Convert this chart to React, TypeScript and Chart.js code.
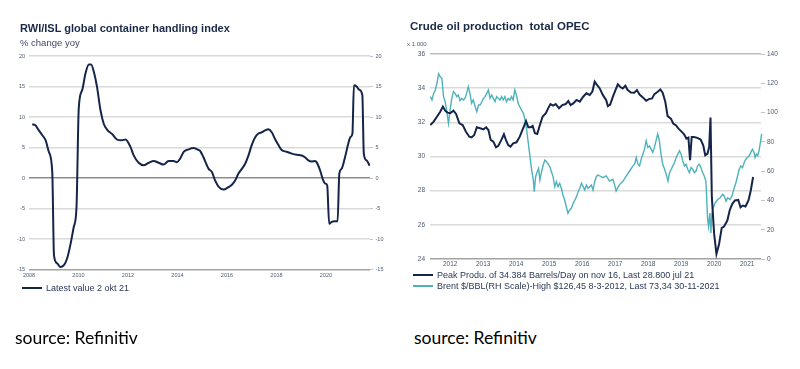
import React, { useEffect, useRef } from 'react';
import Chart from 'chart.js/auto';

// ---------- Left chart: RWI/ISL global container handling index ----------
const containerYears = [
  2008.13, 2008.24, 2008.40, 2008.54, 2008.67, 2008.80, 2008.94, 2009.01, 2009.14, 2009.27,
  2009.41, 2009.54, 2009.68, 2009.81, 2009.92, 2010.01, 2010.15, 2010.28, 2010.42, 2010.51,
  2010.62, 2010.75, 2010.89, 2011.02, 2011.16, 2011.36, 2011.56, 2011.76, 2011.90, 2012.10,
  2012.23, 2012.43, 2012.63, 2012.84, 2013.04, 2013.24, 2013.44, 2013.64, 2013.84, 2013.98,
  2014.11, 2014.25, 2014.45, 2014.65, 2014.85, 2014.92, 2015.05, 2015.26, 2015.39, 2015.52,
  2015.66, 2015.86, 2016.06, 2016.20, 2016.33, 2016.46, 2016.60, 2016.73, 2016.87, 2017.00,
  2017.14, 2017.27, 2017.41, 2017.54, 2017.67, 2017.81, 2017.94, 2018.08, 2018.21, 2018.41,
  2018.62, 2018.82, 2019.02, 2019.15, 2019.29, 2019.42, 2019.56, 2019.62, 2019.76, 2019.89,
  2019.96, 2020.05, 2020.13, 2020.23, 2020.36, 2020.47, 2020.54, 2020.63, 2020.77, 2020.90,
  2020.99, 2021.07, 2021.13, 2021.24, 2021.34, 2021.47, 2021.53, 2021.64, 2021.77,
];
const containerChange = [
  8.8, 8.7, 7.8, 7.0, 6.2, 4.3, 1.0, -12.7, -14.0, -14.6,
  -14.3, -13.2, -10.8, -8.0, -4.8, 11.4, 14.4, 17.1, 18.6, 18.6,
  17.4, 14.9, 11.1, 8.9, 7.9, 7.2, 6.3, 6.2, 6.3, 5.1,
  3.7, 2.5, 2.1, 2.5, 2.8, 2.5, 2.2, 2.8, 2.8, 2.6,
  3.2, 4.3, 4.7, 4.9, 4.6, 4.4, 3.4, 1.5, 1.0, -0.4,
  -1.4, -1.9, -1.5, -1.1, -0.4, 0.7, 1.5, 2.3, 3.7, 5.4,
  6.7, 7.3, 7.5, 7.8, 8.0, 7.5, 6.4, 5.4, 4.6, 4.3,
  4.0, 3.8, 3.7, 3.4, 2.9, 2.7, 2.8, 2.6, 1.3, -0.4,
  -0.9, -1.2, -7.5, -7.2, -7.1, -7.1, 0.7, 1.5, 3.4, 5.6,
  6.7, 7.3, 15.2, 15.0, 14.5, 13.6, 4.0, 2.9, 2.0,
];
const leftTitle = 'RWI/ISL global container handling index';
const leftSubtitle = '% change yoy';
const leftLegend = 'Latest value 2 okt 21';

// ---------- Right chart: Crude oil production total OPEC ----------
const prodYears = [
  2011.40, 2011.50, 2011.60, 2011.70, 2011.78, 2011.85, 2011.92, 2012.00, 2012.10, 2012.18,
  2012.28, 2012.38, 2012.48, 2012.58, 2012.65, 2012.73, 2012.81, 2012.91, 2013.01, 2013.09,
  2013.16, 2013.23, 2013.31, 2013.39, 2013.46, 2013.56, 2013.63, 2013.69, 2013.76, 2013.83,
  2013.91, 2014.01, 2014.11, 2014.22, 2014.30, 2014.37, 2014.44, 2014.50, 2014.57, 2014.64,
  2014.72, 2014.80, 2014.90, 2014.97, 2015.04, 2015.12, 2015.20, 2015.30, 2015.40, 2015.50,
  2015.58, 2015.65, 2015.73, 2015.83, 2015.93, 2016.03, 2016.13, 2016.23, 2016.31, 2016.38,
  2016.45, 2016.53, 2016.63, 2016.73, 2016.78, 2016.85, 2016.93, 2017.01, 2017.08, 2017.15,
  2017.23, 2017.31, 2017.38, 2017.48, 2017.58, 2017.66, 2017.74, 2017.84, 2017.94, 2018.02,
  2018.12, 2018.19, 2018.29, 2018.37, 2018.44, 2018.52, 2018.59, 2018.69, 2018.76, 2018.84,
  2018.92, 2019.02, 2019.09, 2019.16, 2019.22, 2019.27, 2019.32, 2019.39, 2019.49, 2019.59,
  2019.67, 2019.73, 2019.80, 2019.85, 2019.89, 2019.93, 2020.00, 2020.07, 2020.15, 2020.23,
  2020.30, 2020.40, 2020.47, 2020.55, 2020.63, 2020.73, 2020.80, 2020.87, 2020.95, 2021.04,
  2021.11, 2021.18,
];
const prodValues = [
  31.84, 32.04, 32.33, 32.62, 32.92, 32.68, 32.57, 32.53, 32.68, 32.49,
  31.94, 31.84, 31.45, 31.16, 31.12, 31.26, 31.71, 31.65, 31.59, 31.71,
  31.55, 30.97, 30.87, 30.54, 30.62, 31.00, 31.30, 30.97, 30.67, 30.58,
  30.77, 30.83, 31.16, 31.69, 32.08, 31.71, 31.71, 31.79, 31.36, 31.32,
  31.84, 32.33, 32.53, 32.82, 33.07, 32.98, 33.07, 32.82, 33.01, 33.07,
  33.25, 33.01, 33.11, 33.31, 33.21, 33.50, 33.70, 33.60, 33.80, 34.38,
  34.19, 34.00, 33.59, 33.30, 32.95, 33.04, 33.49, 33.89, 34.22, 34.08,
  33.98, 34.14, 33.89, 33.75, 33.73, 33.89, 33.63, 33.46, 33.26, 33.36,
  33.40, 33.65, 33.79, 33.92, 33.73, 33.20, 32.36, 32.22, 31.93, 31.83,
  31.63, 31.44, 31.30, 31.05, 31.11, 29.78, 31.14, 31.14, 31.09, 30.99,
  30.66, 30.07, 30.17, 30.56, 32.28, 27.62, 25.47, 24.29, 24.88, 25.82,
  25.90, 26.25, 26.84, 27.23, 27.43, 27.46, 27.03, 27.13, 27.07, 27.43,
  28.01, 28.80,
];
const brentYears = [
  2011.40, 2011.45, 2011.50, 2011.55, 2011.60, 2011.65, 2011.70, 2011.75, 2011.80, 2011.85,
  2011.90, 2011.95, 2012.00, 2012.05, 2012.10, 2012.15, 2012.20, 2012.25, 2012.30, 2012.35,
  2012.40, 2012.45, 2012.50, 2012.55, 2012.60, 2012.65, 2012.70, 2012.76, 2012.81, 2012.86,
  2012.91, 2012.96, 2013.01, 2013.06, 2013.11, 2013.16, 2013.21, 2013.26, 2013.31, 2013.36,
  2013.41, 2013.46, 2013.51, 2013.56, 2013.61, 2013.66, 2013.71, 2013.76, 2013.81, 2013.86,
  2013.91, 2013.96, 2014.01, 2014.06, 2014.11, 2014.16, 2014.22, 2014.27, 2014.32, 2014.37,
  2014.42, 2014.47, 2014.52, 2014.55, 2014.59, 2014.64, 2014.68, 2014.72, 2014.77, 2014.82,
  2014.87, 2014.92, 2014.97, 2015.02, 2015.07, 2015.12, 2015.17, 2015.22, 2015.27, 2015.32,
  2015.37, 2015.42, 2015.47, 2015.52, 2015.57, 2015.62, 2015.67, 2015.73, 2015.78, 2015.83,
  2015.88, 2015.93, 2015.98, 2016.03, 2016.08, 2016.13, 2016.18, 2016.23, 2016.28, 2016.33,
  2016.38, 2016.43, 2016.48, 2016.53, 2016.63, 2016.73, 2016.83, 2016.93, 2016.98, 2017.03,
  2017.08, 2017.14, 2017.24, 2017.34, 2017.44, 2017.54, 2017.59, 2017.64, 2017.69, 2017.74,
  2017.79, 2017.84, 2017.89, 2017.94, 2017.99, 2018.04, 2018.09, 2018.14, 2018.19, 2018.24,
  2018.29, 2018.34, 2018.39, 2018.44, 2018.50, 2018.55, 2018.60, 2018.65, 2018.70, 2018.75,
  2018.80, 2018.85, 2018.90, 2018.95, 2019.00, 2019.05, 2019.10, 2019.15, 2019.20, 2019.25,
  2019.30, 2019.35, 2019.40, 2019.45, 2019.50, 2019.55, 2019.60, 2019.65, 2019.70, 2019.75,
  2019.77, 2019.80, 2019.83, 2019.87, 2019.90, 2019.93, 2019.97, 2020.03, 2020.11, 2020.18,
  2020.26, 2020.31, 2020.36, 2020.41, 2020.48, 2020.54, 2020.61, 2020.66, 2020.71, 2020.76,
  2020.81, 2020.86, 2020.91, 2020.96, 2021.01, 2021.06, 2021.11, 2021.16, 2021.21, 2021.24,
  2021.28, 2021.32, 2021.36, 2021.41, 2021.44, 2021.48, 2021.52, 2021.54,
];
const brentValues = [
  110.9, 108.6, 113.1, 115.4, 120.0, 126.5, 124.5, 123.4, 110.9, 107.4,
  100.6, 92.6, 101.8, 109.7, 114.3, 113.1, 110.9, 112.0, 108.1, 109.7,
  108.6, 109.7, 113.1, 117.7, 113.1, 106.3, 108.6, 104.0, 100.6, 105.2,
  105.2, 107.4, 109.7, 110.9, 113.1, 115.4, 109.7, 112.0, 109.7, 107.4,
  110.9, 109.7, 108.6, 110.9, 108.6, 110.9, 107.4, 109.7, 108.6, 110.9,
  108.6, 115.4, 112.0, 106.3, 104.0, 101.8, 99.5, 94.9, 88.1, 79.0,
  69.9, 60.8, 54.0, 46.0, 56.2, 59.6, 61.9, 54.0, 59.6, 64.2,
  67.6, 66.5, 64.9, 63.1, 59.6, 56.2, 49.4, 52.8, 49.4, 51.7,
  48.3, 43.7, 40.3, 35.7, 31.2, 33.5, 34.6, 38.0, 40.3, 42.6,
  46.0, 48.3, 51.7, 49.4, 47.1, 50.5, 48.3, 49.4, 50.5, 47.1,
  52.8, 56.2, 57.4, 56.7, 55.5, 56.7, 53.2, 54.4, 51.0, 46.4,
  48.7, 51.0, 53.2, 56.7, 60.1, 63.6, 64.7, 69.3, 64.7, 63.6,
  68.2, 71.6, 75.0, 80.8, 76.2, 77.3, 75.0, 72.8, 76.2, 80.8,
  85.4, 80.8, 71.6, 64.7, 61.3, 57.8, 53.2, 59.0, 61.3, 63.6,
  65.9, 69.3, 71.6, 73.9, 71.6, 67.0, 63.6, 64.7, 61.3, 59.0,
  62.4, 61.3, 59.0, 60.1, 63.6, 64.7, 62.4, 59.0, 56.7, 53.2,
  44.1, 28.0, 22.3, 31.4, 17.7, 30.3, 34.9, 38.3, 40.6, 41.8,
  44.1, 42.9, 39.5, 41.8, 40.6, 42.9, 48.7, 52.1, 56.7, 61.3,
  63.6, 62.4, 65.9, 68.2, 69.3, 70.5, 72.8, 75.0, 72.8, 69.3,
  71.6, 70.5, 73.9, 80.8, 85.4, 84.2, 80.8, 75.0,
];
const rightTitle = 'Crude oil production  total OPEC';
const rightUnit = 'x 1.000';
const prodLabel = 'Peak Produ. of 34.384 Barrels/Day on nov 16, Last 28.800 jul 21';
const brentLabel = 'Brent $/BBL(RH Scale)-High $126,45 8-3-2012, Last 73,34 30-11-2021';
const sourceText = 'source: Refinitiv';

const NAVY = '#15254a';
const TEAL = '#4db2ba';
const TICK = '#4c5a72';
const TITLE = '#1b2948';
const FONT = '"Liberation Sans", Arial, Helvetica, sans-serif';

const gridLeft = (c: any) => {
  const v = c.tick && c.tick.value;
  if (v === 0) return '#8d8d8d';
  if (v === -15) return '#a3a3a3';
  return '#dadada';
};
const gridRight = (c: any) => {
  const v = c.tick && c.tick.value;
  if (v === 24) return '#a3a3a3';
  if (v === 36) return '#bdbdbd';
  return '#dadada';
};

function LeftChart() {
  const ref = useRef<HTMLCanvasElement>(null);
  useEffect(() => {
    const chart = new Chart(ref.current as HTMLCanvasElement, {
      type: 'line',
      data: {
        datasets: [
          {
            label: leftLegend,
            data: containerYears.map((x, i) => ({ x, y: containerChange[i] })),
            borderColor: NAVY,
            backgroundColor: NAVY,
            borderWidth: 2,
            pointRadius: 0,
            cubicInterpolationMode: 'monotone',
            yAxisID: 'y',
          },
        ],
      },
      options: {
        animation: false,
        responsive: true,
        maintainAspectRatio: false,
        layout: { padding: { top: 56, left: 17, right: 14, bottom: 10.5 } },
        plugins: { legend: { display: false }, tooltip: { enabled: false } },
        scales: {
          x: {
            type: 'linear',
            min: 2008,
            max: 2021.78,
            afterFit: (s: any) => { s.height = 10; },
            grid: { display: false, drawTicks: false },
            border: { display: false },
            ticks: {
              stepSize: 2,
              includeBounds: false,
              autoSkip: false,
              maxRotation: 0,
              padding: 2.5,
              color: TICK,
              font: { family: FONT, size: 5.5 },
              callback: (v: any) => String(v),
            },
          },
          y: {
            min: -15,
            max: 20,
            afterFit: (s: any) => { s.width = 12; },
            border: { display: false },
            grid: { drawTicks: false, color: gridLeft, lineWidth: 1.5 },
            ticks: { stepSize: 5, padding: 4, color: TICK, font: { family: FONT, size: 5.5 } },
          },
          y2: {
            position: 'right',
            min: -15,
            max: 20,
            afterFit: (s: any) => { s.width = 16; },
            border: { display: false },
            grid: { drawOnChartArea: false, drawTicks: true, tickLength: 3, color: '#c4c4c4' },
            ticks: { stepSize: 5, padding: 2.5, color: TICK, font: { family: FONT, size: 5.5 } },
          },
        },
      },
    } as any);
    return () => chart.destroy();
  }, []);
  return (
    <div style={{ position: 'absolute', left: 0, top: 0, width: 400, height: 290 }}>
      <canvas ref={ref} />
    </div>
  );
}

function RightChart() {
  const ref = useRef<HTMLCanvasElement>(null);
  useEffect(() => {
    const chart = new Chart(ref.current as HTMLCanvasElement, {
      type: 'line',
      data: {
        datasets: [
          {
            label: prodLabel,
            data: prodYears.map((x, i) => ({ x, y: prodValues[i] })),
            borderColor: NAVY,
            backgroundColor: NAVY,
            borderWidth: 2,
            pointRadius: 0,
            tension: 0,
            yAxisID: 'y',
          },
          {
            label: brentLabel,
            data: brentYears.map((x, i) => ({ x, y: brentValues[i] })),
            borderColor: TEAL,
            backgroundColor: TEAL,
            borderWidth: 1.4,
            pointRadius: 0,
            tension: 0,
            clip: false,
            yAxisID: 'y2',
          },
        ],
      },
      options: {
        animation: false,
        responsive: true,
        maintainAspectRatio: false,
        layout: { padding: { top: 54, left: 16, right: 14, bottom: 21 } },
        plugins: { legend: { display: false }, tooltip: { enabled: false } },
        scales: {
          x: {
            type: 'linear',
            min: 2011.39,
            max: 2021.42,
            afterFit: (s: any) => { s.height = 10; },
            grid: { display: false, drawTicks: false },
            border: { display: false },
            ticks: {
              stepSize: 1,
              includeBounds: false,
              autoSkip: false,
              maxRotation: 0,
              padding: 1.5,
              color: TICK,
              font: { family: FONT, size: 6.5 },
              callback: (v: any) => String(v),
            },
          },
          y: {
            min: 24,
            max: 36,
            afterFit: (s: any) => { s.width = 14; },
            border: { display: false },
            grid: { drawTicks: false, color: gridRight, lineWidth: 1.5 },
            ticks: { stepSize: 2, padding: 5, color: TICK, font: { family: FONT, size: 6.5 } },
          },
          y2: {
            position: 'right',
            min: 0,
            max: 140,
            afterFit: (s: any) => { s.width = 25; },
            border: { display: false },
            grid: { drawOnChartArea: false, drawTicks: true, tickLength: 4, color: '#c4c4c4' },
            ticks: { stepSize: 20, padding: 2, color: TICK, font: { family: FONT, size: 6.5 } },
          },
        },
      },
    } as any);
    return () => chart.destroy();
  }, []);
  return (
    <div style={{ position: 'absolute', left: 400, top: 0, width: 400, height: 290 }}>
      <canvas ref={ref} />
    </div>
  );
}

const abs = (left: number, top: number, extra: React.CSSProperties = {}): React.CSSProperties => ({
  position: 'absolute',
  left,
  top,
  whiteSpace: 'nowrap',
  fontFamily: FONT,
  lineHeight: 1,
  margin: 0,
  ...extra,
});

function LegendRow({ left, centerY, color, text }: { left: number; centerY: number; color: string; text: string }) {
  return (
    <div style={{ position: 'absolute', left, top: centerY - 5, height: 10, display: 'flex', alignItems: 'center', whiteSpace: 'nowrap' }}>
      <span style={{ display: 'inline-block', width: 20, height: 2, background: color, marginRight: 4 }} />
      <span style={{ fontFamily: FONT, fontSize: 9, lineHeight: '10px', color: '#2b3956' }}>{text}</span>
    </div>
  );
}

export default function App() {
  return (
    <div style={{ position: 'fixed', left: 0, top: 0, width: 800, height: 369, background: '#ffffff', overflow: 'hidden' }}>
      <LeftChart />
      <RightChart />
      <div style={abs(20, 23.3, { fontSize: 11, fontWeight: 'bold', color: TITLE })}>{leftTitle}</div>
      <div style={abs(20, 37.7, { fontSize: 9.5, color: '#3b4863' })}>{leftSubtitle}</div>
      <div style={abs(410, 20.8, { fontSize: 11.5, fontWeight: 'bold', color: TITLE, whiteSpace: 'pre' })}>{rightTitle}</div>
      <div style={abs(407, 40.9, { fontSize: 6, color: TICK })}>{rightUnit}</div>
      <LegendRow left={22} centerY={288} color={NAVY} text={leftLegend} />
      <LegendRow left={413} centerY={275} color={NAVY} text={prodLabel} />
      <LegendRow left={413} centerY={286} color={TEAL} text={brentLabel} />
      <div style={abs(15, 329, { fontSize: 17.5, fontFamily: 'Lato, "Open Sans", sans-serif', color: '#000' })}>{sourceText}</div>
      <div style={abs(414, 329, { fontSize: 17.5, fontFamily: 'Lato, "Open Sans", sans-serif', color: '#000' })}>{sourceText}</div>
    </div>
  );
}
